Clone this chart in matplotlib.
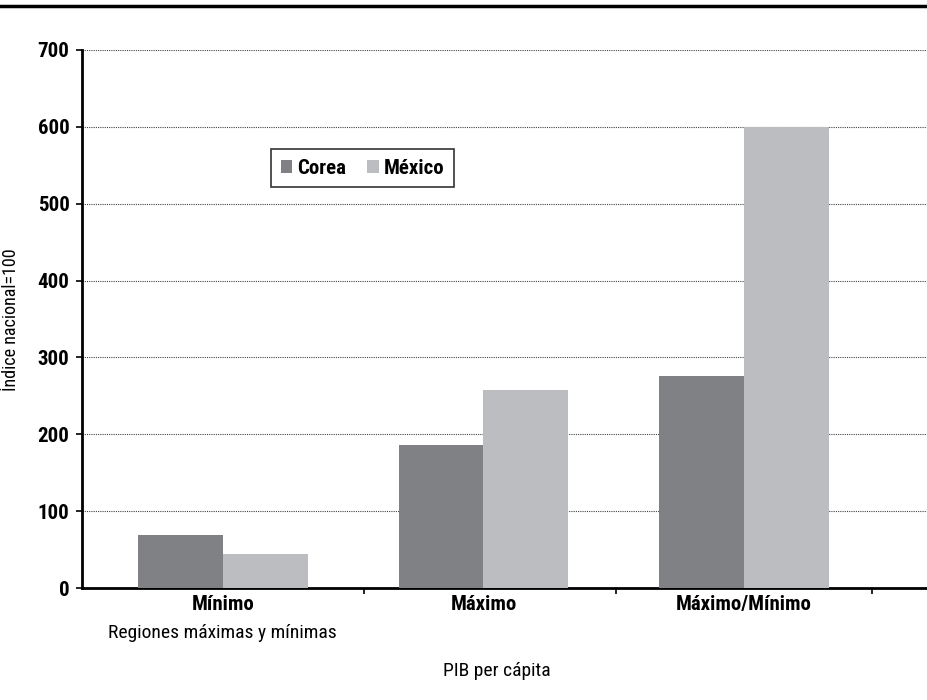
import numpy as np
import matplotlib.pyplot as plt
from matplotlib import font_manager
from matplotlib.ticker import FixedLocator

categories = ["Mínimo", "Máximo", "Máximo/Mínimo"]
corea = [69, 186, 276]
mexico = [44, 258, 600]
series_names = ["Corea", "México"]
yticks = [0, 100, 200, 300, 400, 500, 600, 700]

installed = {f.name for f in font_manager.fontManager.ttflist}
narrow = [f for f in ['Liberation Sans Narrow', 'Roboto Condensed', 'Roboto', 'DejaVu Sans']
          if f in installed]
c_corea = '#808185'
c_mexico = '#bcbdc1'

fig = plt.figure(figsize=(9.27, 7), dpi=100)
ax = fig.add_axes([0.0885, 0.16, 0.9115, 0.7686])

x = np.arange(len(categories))
w = 0.325
ax.bar(x - w/2, corea, w, color=c_corea, label=series_names[0], zorder=3)
ax.bar(x + w/2, mexico, w, color=c_mexico, label=series_names[1], zorder=3)

ax.set_ylim(0, 700)
ax.set_xlim(-0.541, 2.703)
ax.set_yticks(yticks)
ax.set_yticklabels([str(t) for t in yticks], family=narrow, fontsize=15, fontweight='bold')
ax.yaxis.grid(True, linestyle=(0, (1, 1)), color='#444444', linewidth=0.8, zorder=0)

ax.set_xticks(x)
ax.set_xticklabels(categories, family=narrow, fontsize=15, fontweight='bold')
ax.tick_params(axis='x', which='major', length=0, pad=5)
ax.xaxis.set_minor_locator(FixedLocator([0.54, 1.51, 2.49]))
ax.tick_params(axis='x', which='minor', length=4, width=1.2, direction='out')
ax.tick_params(axis='y', length=4, width=1.2, pad=5)

for s in ['top', 'right']:
    ax.spines[s].set_visible(False)
ax.spines['left'].set_linewidth(2)
ax.spines['bottom'].set_linewidth(2)

leg = ax.legend(loc='center', bbox_to_anchor=(0.332, 0.78), ncol=2, frameon=True,
                fancybox=False, edgecolor='black', handlelength=0.55, handleheight=0.55,
                handletextpad=0.25, columnspacing=1.0, borderpad=0.45,
                prop={'family': narrow, 'size': 15, 'weight': 'bold'})
leg.get_frame().set_linewidth(1.2)

fig.text(0.012, 0.543, "Índice nacional=100", rotation=90, ha='center', va='center',
         family=narrow, fontsize=13)
fig.text(0.24, 0.096, "Regiones máximas y mínimas", ha='center', va='center',
         family=narrow, fontsize=14)
fig.text(0.536, 0.041, "PIB per cápita", ha='center', va='center',
         family=narrow, fontsize=14)

fig.add_artist(plt.Line2D([0, 1], [0.991, 0.991], transform=fig.transFigure,
                          color='black', linewidth=2.5))

fig.savefig('out.png', dpi=100)
